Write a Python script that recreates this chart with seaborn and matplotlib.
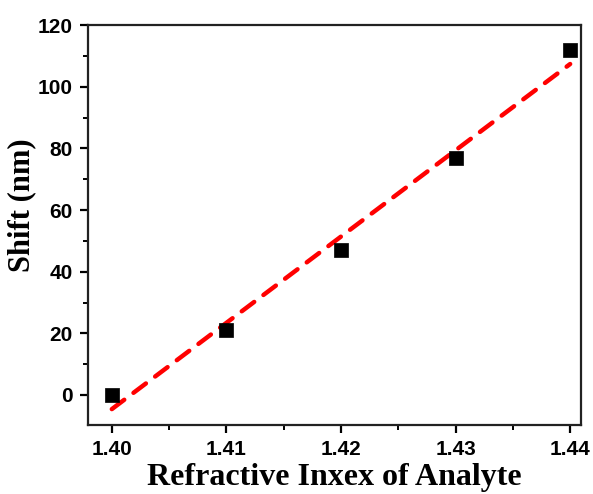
import numpy as np
import pandas as pd
import matplotlib
matplotlib.use("Agg")
import matplotlib.pyplot as plt
from matplotlib.ticker import MultipleLocator
import seaborn as sns

refractive_index = [1.40, 1.41, 1.42, 1.43, 1.44]
shift_nm = [0.0, 21.0, 47.0, 77.0, 112.0]
x_ticks = [1.40, 1.41, 1.42, 1.43, 1.44]
x_tick_labels = ["1.40", "1.41", "1.42", "1.43", "1.44"]
y_ticks = [0, 20, 40, 60, 80, 100, 120]

df = pd.DataFrame({"n": refractive_index, "shift": shift_nm})

sns.set_style("ticks")
plt.rcParams['font.family'] = ['Liberation Sans', 'DejaVu Sans']
plt.rcParams['text.color'] = 'black'
plt.rcParams['xtick.color'] = 'black'
plt.rcParams['ytick.color'] = 'black'
plt.rcParams['axes.labelcolor'] = 'black'

fig = plt.figure(figsize=(5.93, 4.94), dpi=100)
ax = fig.add_axes([0.148, 0.140, 0.832, 0.809])

sns.regplot(data=df, x="n", y="shift", ax=ax, scatter=False, ci=None, truncate=True,
            line_kws=dict(color="#ff0000", lw=3.2, ls=(0, (3.5, 2.6)), dash_capstyle="round"))
sns.scatterplot(data=df, x="n", y="shift", ax=ax, marker="s", s=110, color="black",
                edgecolor="black", linewidth=0.5, zorder=3)

ax.set_xlim(1.3979, 1.44096)
ax.set_ylim(-9.7, 120)
ax.set_xticks(x_ticks)
ax.set_xticklabels(x_tick_labels)
ax.set_yticks(y_ticks)
ax.xaxis.set_minor_locator(MultipleLocator(0.005))
ax.yaxis.set_minor_locator(MultipleLocator(10))
ax.tick_params(which="major", direction="out", length=6, width=1.6, labelsize=15, pad=5)
ax.tick_params(which="minor", direction="out", length=3.5, width=1.4)
ax.tick_params(top=False, right=False, which="both")
for lab in ax.get_xticklabels() + ax.get_yticklabels():
    lab.set_fontweight("bold")
for sp in ax.spines.values():
    sp.set_linewidth(1.6)
    sp.set_color("#222222")

ax.set_xlabel("Refractive Inxex of Analyte", fontsize=23, fontweight="bold",
              family=["Liberation Serif", "DejaVu Serif"], labelpad=2.5)
ax.set_ylabel("Shift (nm)", fontsize=22, fontweight="bold",
              family=["Liberation Serif", "DejaVu Serif"])
ax.yaxis.set_label_coords(-0.105, 0.549)

fig.savefig("out.png", dpi=100)
